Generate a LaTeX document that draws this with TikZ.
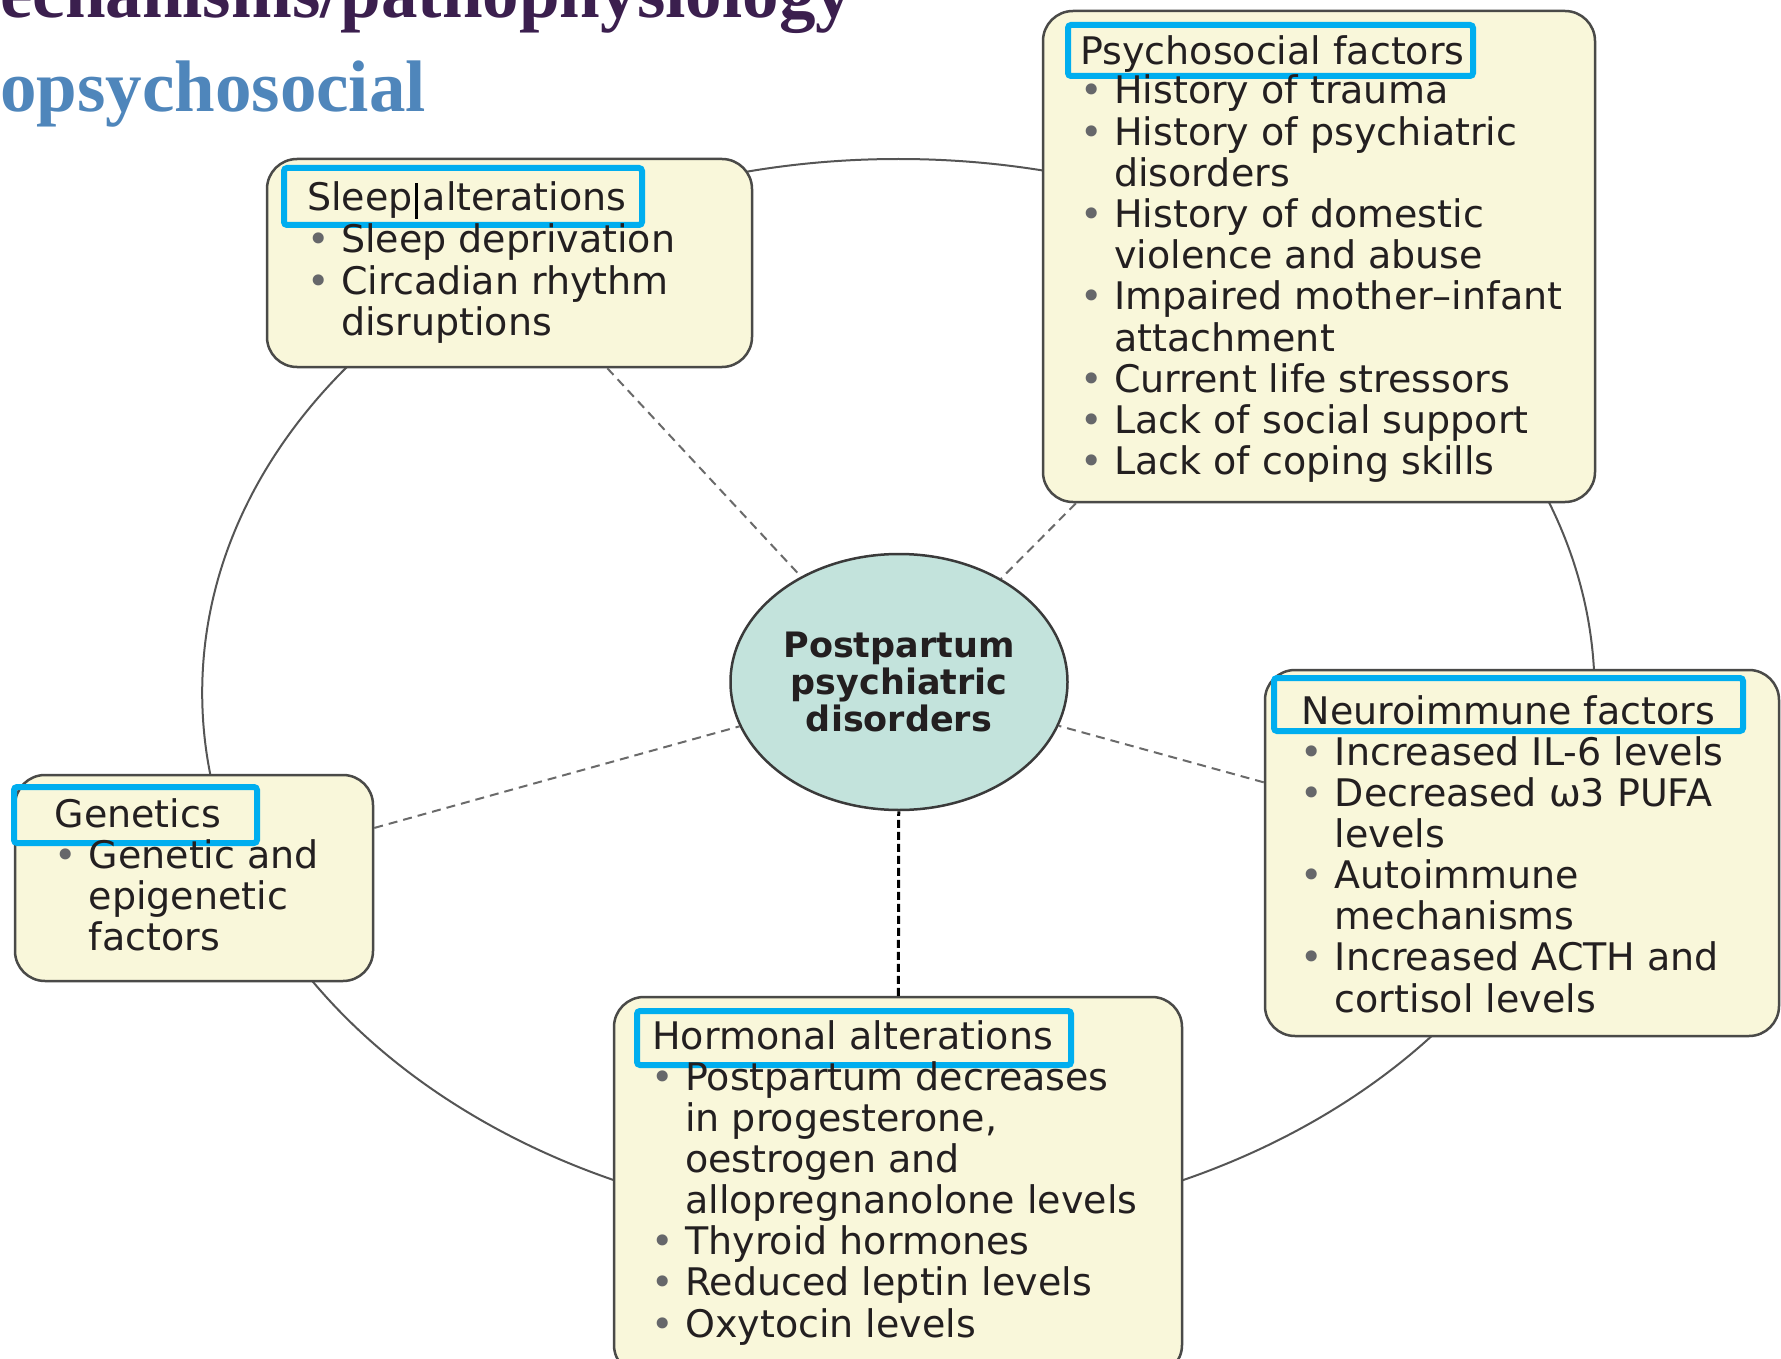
\documentclass[tikz,border=0pt]{standalone}
\usepackage{fontspec}
\setmainfont{DejaVu Sans}
\newfontfamily\headfont{Liberation Serif}
\usetikzlibrary{shapes.geometric}
\definecolor{boxfill}{HTML}{F9F7DA}
\definecolor{boxline}{HTML}{4A4A48}
\definecolor{hl}{HTML}{00AEEF}
\definecolor{ellfill}{HTML}{C3E3DC}
\definecolor{ellline}{HTML}{3A3A3A}
\definecolor{txt}{HTML}{231F20}
\definecolor{bulgray}{HTML}{66676A}
\definecolor{circ}{HTML}{555555}
\definecolor{congray}{HTML}{6A6A6A}
\definecolor{titlepurple}{HTML}{3B1F4E}
\definecolor{titleblue}{HTML}{4F86BB}
\newcommand\bul{\makebox[34pt][l]{\textcolor{bulgray}{\textbullet}}}
\newcommand\bodysize{\fontsize{38}{41}\selectfont}
\begin{document}
\begin{tikzpicture}[x=1pt,y=-1pt,
  factorbox/.style={rectangle, draw=boxline, line width=2.5pt, fill=boxfill, rounded corners=30pt, inner sep=0pt},
  hlrect/.style={draw=hl, line width=6pt, rounded corners=3pt},
  headtext/.style={anchor=base west, inner sep=0pt, font=\bodysize, text=txt},
  bodytext/.style={anchor=base west, inner sep=0pt, font=\bodysize, text=txt},
  dashcon/.style={draw=congray, line width=2pt, dash pattern=on 9pt off 6pt},
  maincon/.style={draw=black, line width=3pt, dash pattern=on 8pt off 4pt},
  headline/.style={anchor=base west, inner sep=0pt, font=\headfont\bfseries\fontsize{73}{73}\selectfont}
]
\useasboundingbox (0,0) rectangle (1781,1359);
\clip (0,0) rectangle (1781,1359);

% heading (cropped in the reference)
\node[headline, text=titlepurple] (head1) at (0,18) {echanisms/pathophysiology};
\node[headline, text=titleblue] (head2) at (0,112) {opsychosocial};

% outer ring
\draw[draw=circ, line width=2pt] (898.4,692.8) ellipse [x radius=696.2pt, y radius=533.8pt];

% central node
\node[ellipse, draw=ellline, line width=2.5pt, fill=ellfill, minimum width=337pt, minimum height=256pt,
      inner sep=0pt, align=center, text=txt, font=\bfseries\fontsize{35}{37}\selectfont]
      (ppd) at (899,682) {Postpartum\\psychiatric\\disorders};

% factor boxes
\node[factorbox, minimum width=485pt, minimum height=208pt] (sleep) at (509.5,263) {};
\node[factorbox, minimum width=552pt, minimum height=491pt] (psych) at (1319,256.5) {};
\node[factorbox, minimum width=358pt, minimum height=206pt] (gen) at (194,878) {};
\node[factorbox, minimum width=514pt, minimum height=366pt] (neuro) at (1522,853) {};
\node[factorbox, minimum width=568pt, minimum height=378pt] (horm) at (898,1186) {};

% connectors
\draw[dashcon] (sleep) -- (ppd);
\draw[dashcon] (psych) -- (ppd);
\draw[dashcon] (gen) -- (ppd);
\draw[dashcon] (neuro) -- (ppd);
\draw[maincon] (horm) -- (ppd);

% highlight frames
\draw[hlrect] (284,168) rectangle (642,225);
\draw[hlrect] (1068,25) rectangle (1473,76);
\draw[hlrect] (14,787) rectangle (257,843);
\draw[hlrect] (1274,678) rectangle (1743,731);
\draw[hlrect] (637,1011) rectangle (1071,1065);

% Sleep alterations
\node[headtext] (sleepH) at (307,211) {Sleep\hspace{2pt}\textcolor{black}{\rule[-8pt]{3pt}{36pt}}\hspace{5pt}alterations};
\node[bodytext] (sleepB) at (307,253) {\begin{tabular}[t]{@{}l@{}l@{}}
\bul & Sleep deprivation\\
\bul & Circadian rhythm\\
 & disruptions
\end{tabular}};

% Psychosocial factors
\node[headtext] (psychH) at (1080,65) {Psychosocial factors};
\node[bodytext] (psychB) at (1080,104) {\begin{tabular}[t]{@{}l@{}l@{}}
\bul & History of trauma\\
\bul & History of psychiatric\\
 & disorders\\
\bul & History of domestic\\
 & violence and abuse\\
\bul & Impaired mother–infant\\
 & attachment\\
\bul & Current life stressors\\
\bul & Lack of social support\\
\bul & Lack of coping skills
\end{tabular}};

% Genetics
\node[headtext] (genH) at (54.5,827) {Genetics};
\node[bodytext] (genB) at (54.6,868) {\begin{tabular}[t]{@{}l@{}l@{}}
\bul & Genetic and\\
 & epigenetic\\
 & factors
\end{tabular}};

% Neuroimmune factors
\node[headtext] (neuroH) at (1301.6,724) {Neuroimmune factors};
\node[bodytext] (neuroB) at (1300.6,765) {\begin{tabular}[t]{@{}l@{}l@{}}
\bul & Increased IL-6 levels\\
\bul & Decreased ω3 PUFA\\
 & levels\\
\bul & Autoimmune\\
 & mechanisms\\
\bul & Increased ACTH and\\
 & cortisol levels
\end{tabular}};

% Hormonal alterations
\node[headtext] (hormH) at (652,1049) {Hormonal alterations};
\node[bodytext] (hormB) at (651,1090) {\begin{tabular}[t]{@{}l@{}l@{}}
\bul & Postpartum decreases\\
 & in progesterone,\\
 & oestrogen and\\
 & allopregnanolone levels\\
\bul & Thyroid hormones\\
\bul & Reduced leptin levels\\
\bul & Oxytocin levels
\end{tabular}};
\end{tikzpicture}
\end{document}
